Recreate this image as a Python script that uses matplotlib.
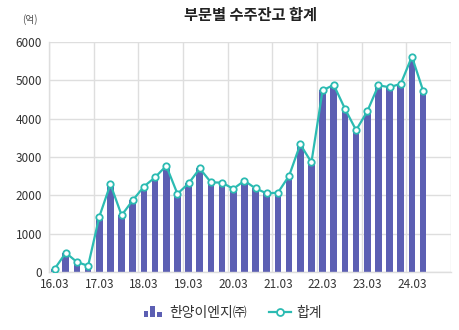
import matplotlib
matplotlib.use("Agg")
import matplotlib.pyplot as plt
from matplotlib.legend_handler import HandlerBase
from matplotlib.patches import Rectangle
from matplotlib.lines import Line2D

plt.rcParams['font.family'] = ['Noto Sans CJK KR', 'DejaVu Sans']

# Quarterly periods 16.03 .. 24.12 (data through 24.06)
quarters = [f"{y}.{m}" for y in range(16, 25) for m in ("03", "06", "09", "12")]
tick_labels = ["16.03", "17.03", "18.03", "19.03", "20.03", "21.03", "22.03", "23.03", "24.03"]

# Order backlog (억원)
hanyang = [80, 500, 260, 160, 1440, 2290, 1480, 1870,
           2230, 2470, 2770, 2040, 2310, 2700, 2340, 2330,
           2170, 2380, 2180, 2050, 2070, 2510, 3330, 2860,
           4740, 4880, 4260, 3700, 4190, 4870, 4820, 4910,
           5620, 4730]
total = [80, 500, 260, 160, 1440, 2290, 1480, 1870,
         2230, 2470, 2770, 2040, 2310, 2700, 2340, 2330,
         2170, 2380, 2180, 2050, 2070, 2510, 3330, 2860,
         4740, 4880, 4260, 3700, 4190, 4870, 4820, 4910,
         5620, 4730]

bar_color = "#5c5fb3"
line_color = "#2bbbb2"
grid_color = "#dedede"
text_color = "#333333"

fig = plt.figure(figsize=(4.59, 3.30), dpi=100)
ax = fig.add_axes([0.1068, 0.1758, 0.8758, 0.6969])

x = list(range(len(hanyang)))
ax.bar(x, hanyang, width=0.6, color=bar_color, zorder=2)
ax.plot(x, total, color=line_color, lw=1.6, marker="o", ms=4.6,
        mfc="white", mec=line_color, mew=1.3, zorder=3)

ax.set_xlim(-0.5, len(quarters) - 0.5)
ax.set_ylim(0, 6000)
ax.set_yticks(range(0, 6001, 1000))

tick_pos = [quarters.index(t) for t in tick_labels]
ax.set_xticks(tick_pos)
ax.set_xticklabels(tick_labels)
ax.set_xticks([p - 0.5 for p in range(0, len(quarters) + 1, 4)], minor=True)

ax.grid(axis="y", color=grid_color, lw=1, zorder=0)
ax.grid(axis="x", which="minor", color=grid_color, lw=1, zorder=0)
ax.tick_params(axis="both", which="both", length=0, labelsize=8.5, colors=text_color)
ax.tick_params(axis="x", pad=4)
ax.tick_params(axis="y", pad=5)
for s in ("top", "right"):
    ax.spines[s].set_visible(False)
for s in ("left", "bottom"):
    ax.spines[s].set_color(grid_color)
    ax.spines[s].set_linewidth(1)

fig.text(0.545, 0.955, "부문별 수주잔고 합계", ha="center", va="center",
         fontsize=11, fontweight="bold", color="#222222")
fig.text(0.066, 0.94, "(억)", ha="center", va="center", fontsize=7, color="#555555")


class BarIconHandler(HandlerBase):
    def create_artists(self, legend, orig_handle, xdescent, ydescent,
                       width, height, fontsize, trans):
        arts = []
        bw = width * 0.22
        heights = [0.6, 1.05, 0.5]
        for i, h in enumerate(heights):
            r = Rectangle((-xdescent + width * 0.1 + i * width * 0.3, -ydescent),
                          bw, height * h, facecolor=bar_color, edgecolor="none",
                          transform=trans)
            arts.append(r)
        return arts


bar_handle = Rectangle((0, 0), 1, 1, color=bar_color)
line_handle = Line2D([], [], color=line_color, lw=1.6, marker="o", ms=5,
                     mfc="white", mec=line_color, mew=1.3)
fig.legend([bar_handle, line_handle], ["한양이엔지㈜", "합계"],
           loc="center", bbox_to_anchor=(0.505, 0.053), ncol=2, frameon=False,
           fontsize=10, handlelength=1.6, handletextpad=0.4, columnspacing=1.6,
           handler_map={Rectangle: BarIconHandler()}, labelcolor=text_color)

fig.savefig("out.png", dpi=100)
